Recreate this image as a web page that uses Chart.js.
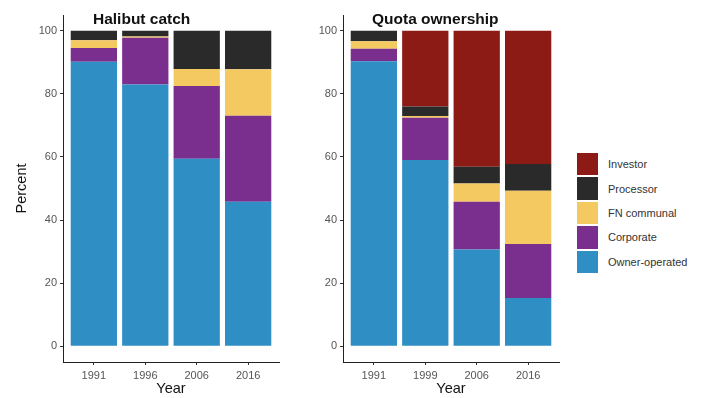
<!DOCTYPE html>
<html>
<head>
<meta charset="utf-8">
<script src="https://cdn.jsdelivr.net/npm/chart.js@4"></script>
<style>
  html, body { margin: 0; padding: 0; background: #fff; width: 709px; height: 398px; overflow: hidden;
    font-family: "Liberation Sans", Arial, sans-serif; }
  #wrap { position: relative; width: 709px; height: 398px; }
  canvas { position: absolute; top: 0; }
  #cLeft { left: 0; }
  #cRight { left: 290px; }
  .ptitle { position: absolute; top: 11px; font-weight: bold; font-size: 15.5px; line-height: 1; color: #111; }
  #legend { position: absolute; left: 577px; top: 152px; }
  .key { display: flex; align-items: center; height: 24.4px; }
  .sw { width: 21px; height: 22.5px; margin-right: 10px; }
  .lab { font-size: 11px; color: #333; }
</style>
</head>
<body>
<div id="wrap">
  <canvas id="cLeft" width="290" height="398"></canvas>
  <canvas id="cRight" width="280" height="398"></canvas>
  <div class="ptitle" style="left:93px">Halibut catch</div>
  <div class="ptitle" style="left:372px">Quota ownership</div>
  <div id="legend"></div>
</div>
<script>
// Categories
const halibutYears = ['1991', '1996', '2006', '2016'];
const quotaYears   = ['1991', '1999', '2006', '2016'];

// Series (bottom to top of each stack)
const seriesNames  = ['Owner-operated', 'Corporate', 'FN communal', 'Processor', 'Investor'];
const seriesColors = ['#2F8FC5', '#7A2E8E', '#F5C962', '#2A2A2A', '#8C1B16'];

// Halibut catch shares (%)
const halibutOwner     = [90.2, 83.0, 59.4, 45.8];
const halibutCorporate = [4.3, 14.8, 23.1, 27.3];
const halibutFN        = [2.5, 0.4, 5.4, 14.7];
const halibutProcessor = [3.0, 1.8, 12.1, 12.2];
const halibutInvestor  = [0, 0, 0, 0];

// Quota ownership shares (%)
const quotaOwner     = [90.3, 59.0, 30.7, 15.3];
const quotaCorporate = [4.0, 13.4, 15.1, 17.1];
const quotaFN        = [2.4, 0.6, 5.8, 16.9];
const quotaProcessor = [3.3, 3.0, 5.3, 8.5];
const quotaInvestor  = [0, 24.0, 43.1, 42.2];

// Axis ticks
const yTickValues = [0, 20, 40, 60, 80, 100];

const tickFont = { family: '"Liberation Sans", Arial, sans-serif', size: 11 };
const titleFont = { family: '"Liberation Sans", Arial, sans-serif', size: 14.5 };

function buildDatasets(years, seriesValues) {
  return seriesValues.map((vals, s) => ({
    label: seriesNames[s],
    backgroundColor: seriesColors[s],
    borderWidth: 0,
    categoryPercentage: 1,
    barPercentage: 0.9,
    data: years.map((_, i) => ({ x: i + 1, y: vals[i] }))
  }));
}

function makeChart(canvasId, years, seriesValues, showYTitle, yAxisWidth) {
  return new Chart(document.getElementById(canvasId), {
    type: 'bar',
    data: { datasets: buildDatasets(years, seriesValues) },
    options: {
      responsive: false,
      animation: false,
      layout: { padding: { top: 15, right: 11, bottom: 0, left: 0 } },
      plugins: { legend: { display: false }, tooltip: { enabled: false } },
      scales: {
        x: {
          type: 'linear',
          stacked: true,
          offset: false,
          min: 0.4,
          max: 4.6,
          afterBuildTicks: (s) => { s.ticks = years.map((_, i) => ({ value: i + 1 })); },
          ticks: {
            callback: (v) => years[v - 1] ?? '',
            color: '#555', font: tickFont, padding: 4, autoSkip: false, maxRotation: 0
          },
          grid: { offset: false, drawOnChartArea: false, drawTicks: true, tickLength: 3, color: '#333' },
          border: { display: true, color: '#222', width: 1 },
          title: { display: true, text: 'Year', color: '#111', font: titleFont, padding: { top: 0, bottom: 0 } },
          afterFit: (s) => { s.height = 36; }
        },
        y: {
          stacked: true,
          min: -5,
          max: 105,
          afterBuildTicks: (s) => { s.ticks = yTickValues.map(v => ({ value: v })); },
          ticks: { color: '#555', font: tickFont, padding: 3 },
          grid: { drawOnChartArea: false, drawTicks: true, tickLength: 3, color: '#333' },
          border: { display: true, color: '#222', width: 1 },
          title: { display: showYTitle, text: 'Percent', color: '#111', font: titleFont, padding: { top: 13.5, bottom: 0 } },
          afterFit: (s) => { s.width = yAxisWidth; }
        }
      }
    }
  });
}

makeChart('cLeft', halibutYears,
  [halibutOwner, halibutCorporate, halibutFN, halibutProcessor, halibutInvestor], true, 63);
makeChart('cRight', quotaYears,
  [quotaOwner, quotaCorporate, quotaFN, quotaProcessor, quotaInvestor], false, 53);

// Legend: top entry is the top of the stack
const legend = document.getElementById('legend');
for (let s = seriesNames.length - 1; s >= 0; s--) {
  const row = document.createElement('div');
  row.className = 'key';
  const sw = document.createElement('div');
  sw.className = 'sw';
  sw.style.background = seriesColors[s];
  const lab = document.createElement('span');
  lab.className = 'lab';
  lab.textContent = seriesNames[s];
  row.appendChild(sw);
  row.appendChild(lab);
  legend.appendChild(row);
}
</script>
</body>
</html>
